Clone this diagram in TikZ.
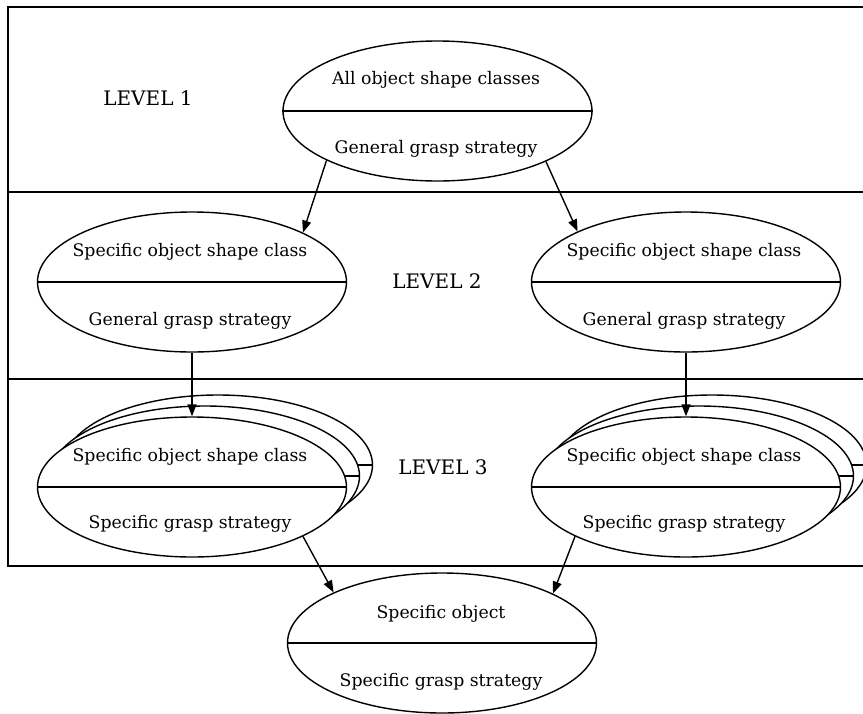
\documentclass[tikz,border=0pt]{standalone}
\usepackage{fontspec}
\setmainfont{DejaVu Serif}
\usetikzlibrary{shapes.geometric,arrows.meta}
\tikzset{
  oval/.style={ellipse, draw, fill=white, line width=1.4pt,
    minimum width=309pt, minimum height=140pt, inner sep=0pt},
  txt/.style={font=\fontsize{17.3}{20}\selectfont, inner sep=0pt, anchor=base},
  leveltxt/.style={font=\fontsize{20}{24}\selectfont, inner sep=0pt, anchor=base},
  frameline/.style={line width=1.8pt},
  link/.style={-{Triangle[length=12pt,width=9pt]}, line width=1.4pt},
}
% draws the horizontal divider of a split oval
\newcommand\splitoval[1]{\draw[line width=1.4pt] (#1.west) -- (#1.east);}
\begin{document}
\begin{tikzpicture}[x=1pt,y=-1pt]
\useasboundingbox (0,0) rectangle (863,713);
\clip (0,0) rectangle (863,713);

% level bands
\draw[frameline] (900,7) -- (8,7) -- (8,566) -- (900,566);
\draw[frameline] (8,192) -- (900,192);
\draw[frameline] (8,379) -- (900,379);

\node[leveltxt] (lv1) at (148,105) {LEVEL 1};
\node[leveltxt] (lv2) at (437,288) {LEVEL 2};
\node[leveltxt] (lv3) at (443,474) {LEVEL 3};

% level 1
\node[oval] (all) at (437.5,111) {};
\splitoval{all}
\node[txt] (allT) at (436,84) {All object shape classes};
\node[txt] (allB) at (436,153) {General grasp strategy};

% level 2
\node[oval] (clsL) at (192,282) {};
\splitoval{clsL}
\node[txt] (clsLT) at (190,256) {Specific object shape class};
\node[txt] (clsLB) at (190,325) {General grasp strategy};

\node[oval] (clsR) at (686,282) {};
\splitoval{clsR}
\node[txt] (clsRT) at (684,256) {Specific object shape class};
\node[txt] (clsRB) at (684,325) {General grasp strategy};

% level 3, stacked instances
\node[oval] (stL3) at (218,465) {};
\splitoval{stL3}
\node[oval] (stL2) at (205,476) {};
\splitoval{stL2}
\node[oval] (stL) at (192,487) {};
\splitoval{stL}
\node[txt] (stLT) at (190,461) {Specific object shape class};
\node[txt] (stLB) at (190,528) {Specific grasp strategy};

\node[oval] (stR3) at (712,465) {};
\splitoval{stR3}
\node[oval] (stR2) at (699,476) {};
\splitoval{stR2}
\node[oval] (stR) at (686,487) {};
\splitoval{stR}
\node[txt] (stRT) at (684,461) {Specific object shape class};
\node[txt] (stRB) at (684,528) {Specific grasp strategy};

% object
\node[oval] (obj) at (442,643) {};
\splitoval{obj}
\node[txt] (objT) at (441,618) {Specific object};
\node[txt] (objB) at (441,686) {Specific grasp strategy};

% connectors
\draw[link] (all.204.8) -- (clsL.24.2);
\draw[link] (all.335) -- (clsR.155.4);
\draw[link] (clsL.south) -- (stL.north);
\draw[link] (clsR.south) -- (stR.north);
\draw[link] (stL.-24.4) -- (obj.155.6);
\draw[link] (stR.204.6) -- (obj.24.2);
\end{tikzpicture}
\end{document}
